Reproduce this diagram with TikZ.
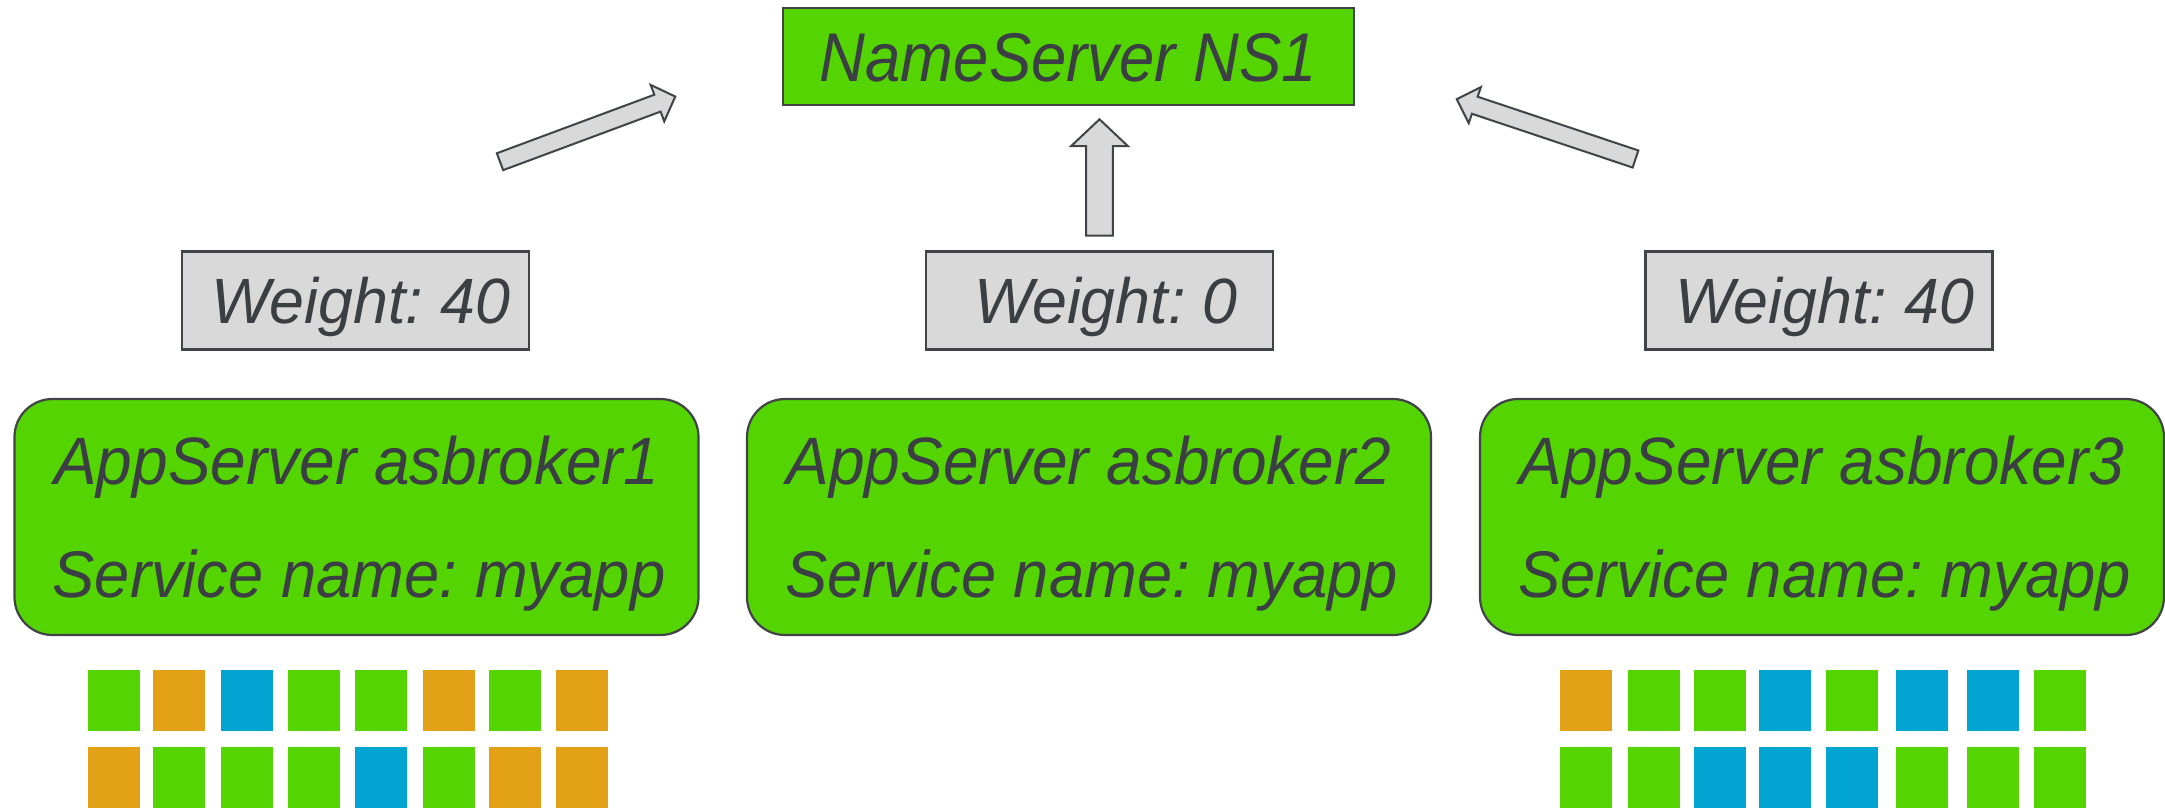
\documentclass[tikz,border=0pt]{standalone}
\usepackage{fontspec}
\usepackage{graphicx}
\setmainfont{Liberation Sans}
\frenchspacing
\definecolor{boxgreen}{RGB}{84,212,0}
\definecolor{wgray}{RGB}{217,217,217}
\definecolor{edge}{RGB}{64,67,71}
\definecolor{ink}{RGB}{59,62,66}
\definecolor{sqorange}{RGB}{227,161,24}
\definecolor{sqblue}{RGB}{2,165,210}
% horizontally condensed text
\newcommand\cond[2]{\scalebox{#1}[1]{#2}}
\tikzset{
  nsbox/.style={draw=edge, line width=2.2pt, fill=boxgreen, minimum width=571pt, minimum height=97pt, inner sep=0pt},
  wbox/.style={draw=edge, line width=2.2pt, fill=wgray, minimum width=347pt, minimum height=98pt, inner sep=0pt},
  appbox/.style={draw=edge, line width=2.2pt, fill=boxgreen, rounded corners=38pt, minimum width=684pt, minimum height=236pt, inner sep=0pt},
  lbl/.style={text=ink, inner sep=0pt, anchor=base, font=\fontsize{#1}{#1}\selectfont\itshape},
  lbl/.default=67,
  blk/.style={draw=edge, line width=2pt, fill=wgray, line join=miter},
  sqG/.style={fill=boxgreen},
  sqO/.style={fill=sqorange},
  sqB/.style={fill=sqblue},
}
\begin{document}
\begin{tikzpicture}[x=1pt,y=-1pt]
\useasboundingbox (0,0) rectangle (2165,807);

% name server
\node[nsbox] (ns) at (1068.5,56.5) {};
\node[lbl=69] (nstxt) at (1068.5,81) {\cond{0.92}{NameServer NS1}};

% block arrows pointing at the name server
\begin{scope}[shift={(500,161.7)}, rotate=20.4]
  \draw[blk] (0,-9) -- (168,-9) -- (168,-19.5) -- (187,0) -- (168,19.5) -- (168,9) -- (0,9) -- cycle;
\end{scope}
\begin{scope}[shift={(1099.5,235.7)}, rotate=90]
  \draw[blk] (0,-13.3) -- (89.7,-13.3) -- (89.7,-28.3) -- (116.4,0) -- (89.7,28.3) -- (89.7,13.3) -- (0,13.3) -- cycle;
\end{scope}
\begin{scope}[shift={(1635.5,159)}, rotate=161.5]
  \draw[blk] (0,-9) -- (169.5,-9) -- (169.5,-19) -- (188.5,0) -- (169.5,19) -- (169.5,9) -- (0,9) -- cycle;
\end{scope}

% weights
\node[wbox] (w1) at (355.5,300.5) {};
\node[wbox] (w2) at (1099.5,300.5) {};
\node[wbox] (w3) at (1819,300.5) {};
\node[lbl=64] (w1txt) at (361,323.3) {\cond{0.98}{Weight: 40}};
\node[lbl=64] (w2txt) at (1106,323.3) {\cond{0.98}{Weight: 0}};
\node[lbl=64] (w3txt) at (1825,323.3) {\cond{0.98}{Weight: 40}};

% application servers
\node[appbox] (a1) at (356.5,517) {};
\node[appbox] (a2) at (1089,517) {};
\node[appbox] (a3) at (1822,517) {};
\node[lbl] (a1t) at (356.5,484) {\cond{0.955}{AppServer asbroker1}};
\node[lbl=66] (a1s) at (359,597) {\cond{0.96}{Service name: myapp}};
\node[lbl] (a2t) at (1089,484) {\cond{0.955}{AppServer asbroker2}};
\node[lbl=66] (a2s) at (1091.5,597) {\cond{0.96}{Service name: myapp}};
\node[lbl] (a3t) at (1822,484) {\cond{0.955}{AppServer asbroker3}};
\node[lbl=66] (a3s) at (1824.5,597) {\cond{0.96}{Service name: myapp}};

% request queues
\foreach \x/\c in {88/G,153/O,221/B,288/G,355/G,423/O,489/G,556/O}
  \fill[sq\c] (\x,670) rectangle ++(52,61);
\foreach \x/\c in {88/O,153/G,221/G,288/G,355/B,423/G,489/O,556/O}
  \fill[sq\c] (\x,747) rectangle ++(52,62);
\foreach \x/\c in {1560/O,1628/G,1694/G,1759/B,1826/G,1896/B,1967/B,2034/G}
  \fill[sq\c] (\x,670) rectangle ++(52,61);
\foreach \x/\c in {1560/G,1628/G,1694/B,1759/B,1826/B,1896/G,1967/G,2034/G}
  \fill[sq\c] (\x,747) rectangle ++(52,62);
\end{tikzpicture}
\end{document}
